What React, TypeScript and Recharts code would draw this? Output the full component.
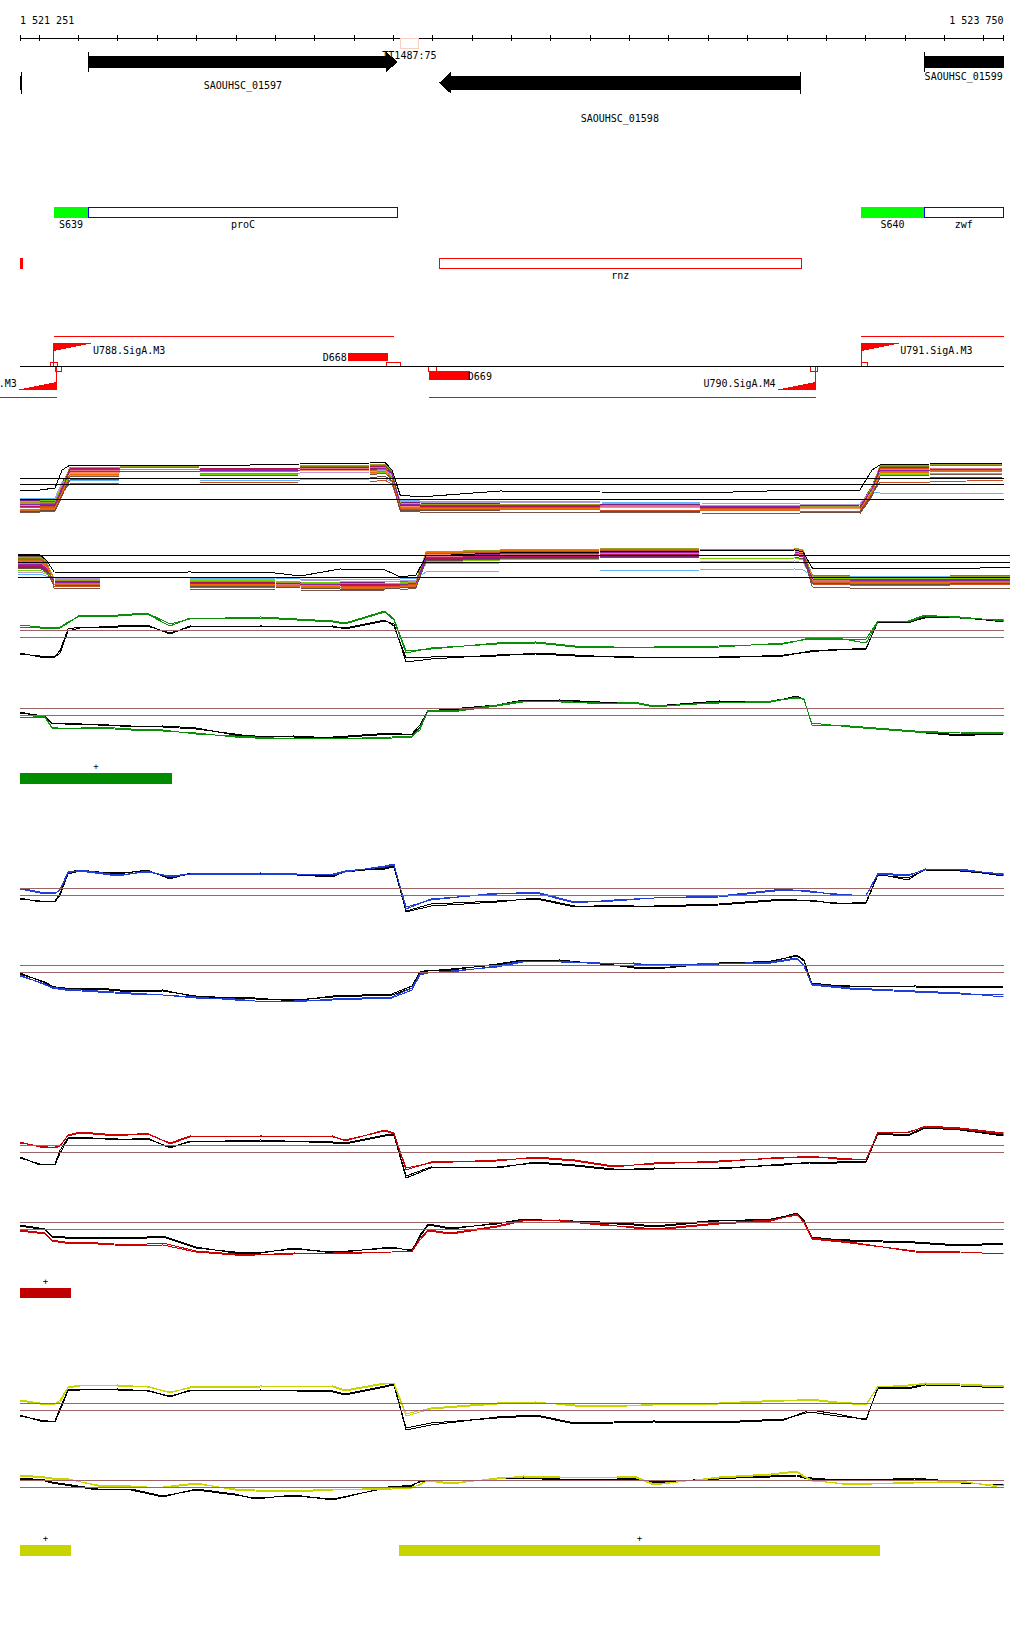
import React from 'react'
import { ComposedChart, LineChart, Line, XAxis, YAxis, ReferenceLine, ReferenceArea, ReferenceDot } from 'recharts'

// genomic window shown
const START = 1521251
const END = 1523750
const FONT = "'DejaVu Sans Mono', monospace"

const RULER_TICKS = [
  1521251, 1521300, 1521400, 1521500, 1521600, 1521700, 1521800, 1521900, 1522000, 1522100, 1522200,
  1522300, 1522400, 1522500, 1522600, 1522700, 1522800, 1522900, 1523000, 1523100, 1523200, 1523300,
  1523400, 1523500, 1523600, 1523700, 1523750,
]

// annotation tracks
const GENES = [
  { name: '', start: 1521251, end: 1521255, strand: '-' },
  { name: 'SAOUHSC_01597', start: 1521424, end: 1522211, strand: '+' },
  { name: 'SAOUHSC_01598', start: 1522316, end: 1523234, strand: '-' },
  { name: 'SAOUHSC_01599', start: 1523548, end: 1523750, strand: '+' },
]
const SIGMA_SITES = [
  { name: 'S639', start: 1521337, end: 1521424 },
  { name: 'S640', start: 1523388, end: 1523548 },
]
const OPERON_GENES = [
  { name: 'proC', start: 1521424, end: 1522211 },
  { name: 'zwf', start: 1523548, end: 1523750 },
]
const RED_FEATURES = [
  { name: '', start: 1521251, end: 1521257 },
  { name: 'rnz', start: 1522316, end: 1523236 },
]
const PROMOTERS = [
  { name: 'U788.SigA.M3', tss: 1521337, strand: '+' },
  { name: '.M3', tss: 1521345, strand: '-' },
  { name: 'U790.SigA.M4', tss: 1523273, strand: '-' },
  { name: 'U791.SigA.M3', tss: 1523388, strand: '+' },
]
const TERMINATORS = [
  { name: 'D668', start: 1522084, end: 1522186, strand: '+' },
  { name: 'D669', start: 1522290, end: 1522394, strand: '-' },
]
const SITE_BOXES = [
  { start: 1521329, end: 1521347, strand: '+' },
  { start: 1521342, end: 1521357, strand: '-' },
  { start: 1522181, end: 1522217, strand: '+' },
  { start: 1522290, end: 1522310, strand: '-' },
  { start: 1523259, end: 1523278, strand: '-' },
  { start: 1523388, end: 1523405, strand: '+' },
]
const TRANSCRIPTS = [
  { start: 1521337, end: 1522201, strand: '+' },
  { start: 1523388, end: 1523750, strand: '+' },
  { start: 1521200, end: 1521345, strand: '-' },
  { start: 1522290, end: 1523273, strand: '-' },
]
const TT_SITES = [{ name: 'TT1487:75', start: 1522217, end: 1522264 }]
const GREEN_REGIONS = [{ start: 1521251, end: 1521637 }]
const RED_REGIONS = [{ start: 1521251, end: 1521381 }]
const YELLOW_REGIONS = [
  { start: 1521251, end: 1521381 },
  { start: 1522214, end: 1523436 },
]

// expression profiles, sampled positions
const MULTI_FWD_POS = [
  1521251, 1521302, 1521340, 1521358, 1521378, 1521505, 1521708, 1521962, 1522140, 1522178, 1522196,
  1522217, 1522267, 1522471, 1522725, 1522979, 1523233, 1523385, 1523416, 1523436, 1523563, 1523750,
]
const MULTI_REV_POS = [
  1521251, 1521306, 1521322, 1521342, 1521458, 1521684, 1521899, 1521962, 1522062, 1522176, 1522214,
  1522254, 1522279, 1522466, 1522718, 1522970, 1523209, 1523229, 1523252, 1523348, 1523600, 1523750,
]
const FWD_POS = [
  1521251, 1521302, 1521340, 1521353, 1521373, 1521403, 1521500, 1521574, 1521632, 1521683, 1521863,
  1522046, 1522077, 1522178, 1522201, 1522232, 1522295, 1522463, 1522562, 1522661, 1522760, 1522862,
  1523027, 1523192, 1523258, 1523327, 1523401, 1523431, 1523507, 1523551, 1523640, 1523750,
]
const REV_POS = [
  1521251, 1521315, 1521332, 1521365, 1521449, 1521533, 1521614, 1521698, 1521797, 1521848, 1521947,
  1522046, 1522196, 1522247, 1522267, 1522288, 1522346, 1522463, 1522529, 1522623, 1522725, 1522811,
  1522862, 1523027, 1523159, 1523225, 1523243, 1523263, 1523360, 1523525, 1523640, 1523750,
]

const MULTI_COLORS = [
  '#808000', '#e64a19', '#c2185b', '#7b1f7b', '#d2691e', '#64b5f6', '#ff8a65', '#76d200', '#b39ddb',
  '#795548', '#e07090', '#cc4c24', '#9e9d24', '#ad1457', '#ef6c00', '#6d4c41', '#8e24aa',
]
const MULTI_FWD_VALUES = [
  [16, 16, 17, 34, 52, 52, 53, 53, 54, 55, 48, 17, 16, 15, 15, 14, 13, 14, 34, 53, 54, 55],
  [12, 13, 13, 28, 50, 51, 51, 52, 52, 54, 46, 14, 13, 13, 12, 12, 11, 11, 30, 51, 52, 52],
  [18, 18, 19, 36, 51, 51, 50, 51, 51, 53, 47, 16, 15, 15, 14, 13, 13, 13, 32, 50, 51, 51],
  [20, 19, 20, 38, 49, 50, 50, 50, 51, 52, 46, 18, 17, 16, 16, 15, 14, 15, 33, 49, 50, 51],
  [10, 10, 11, 26, 47, 48, 48, 49, 49, 51, 44, 12, 11, 11, 10, 10, 9, 9, 27, 48, 49, 50],
  [22, 22, 22, 38, 39, 40, 40, 40, 41, 42, 38, 20, 19, 19, 18, 17, 16, 16, 28, 27, 27, 27],
  [15, 15, 16, 32, 48, 48, 49, 49, 50, 52, 45, 14, 14, 13, 13, 12, 12, 12, 30, 49, 50, 50],
  [19, 19, 20, 35, 44, 45, 45, 46, 46, 48, 42, 17, 16, 16, 15, 15, 14, 14, 30, 45, 46, 47],
  [21, 21, 21, 37, 46, 47, 47, 47, 48, 50, 44, 19, 18, 18, 17, 16, 16, 16, 31, 46, 47, 47],
  [8, 8, 9, 24, 43, 44, 44, 45, 45, 47, 41, 9, 8, 8, 8, 7, 6, 6, 24, 44, 45, 46],
  [17, 17, 18, 33, 50, 50, 51, 51, 52, 53, 47, 15, 15, 14, 14, 13, 13, 13, 31, 50, 51, 52],
  [13, 13, 14, 29, 36, 37, 37, 38, 38, 40, 36, 11, 11, 10, 10, 9, 9, 9, 26, 38, 38, 40],
  [18, 18, 18, 34, 53, 53, 54, 54, 55, 56, 49, 16, 16, 16, 15, 14, 14, 14, 33, 54, 55, 56],
  [14, 14, 15, 31, 51, 52, 52, 52, 53, 54, 47, 15, 14, 14, 13, 13, 12, 12, 31, 52, 53, 53],
  [11, 11, 12, 27, 45, 46, 46, 47, 47, 49, 43, 13, 12, 12, 11, 11, 10, 10, 28, 47, 48, 49],
  [9, 9, 10, 25, 40, 41, 41, 42, 42, 44, 39, 10, 10, 9, 9, 8, 8, 8, 25, 42, 42, 43],
  [16, 16, 16, 32, 49, 49, 49, 50, 50, 52, 46, 16, 15, 15, 14, 14, 13, 13, 31, 50, 50, 51],
]
const MULTI_FWD_BLACK = [30, 30, 32, 50, 55, 55, 54, 56, 57, 58, 50, 25, 23, 29, 28, 27, 30, 30, 50, 55, 56, 57]
const MULTI_REV_VALUES = [
  [42, 42, 38, 22, 21, 21, 20, 20, 19, 18, 18, 20, 46, 48, 49, 50, 50, 48, 25, 24, 24, 25],
  [38, 38, 34, 18, 17, 17, 16, 15, 14, 13, 14, 16, 44, 46, 47, 48, 48, 46, 20, 19, 19, 20],
  [35, 35, 31, 20, 19, 19, 18, 17, 16, 16, 16, 18, 42, 44, 45, 46, 46, 44, 22, 21, 21, 22],
  [33, 33, 29, 21, 20, 20, 19, 18, 18, 17, 17, 19, 40, 42, 43, 44, 45, 43, 23, 22, 22, 23],
  [40, 40, 36, 16, 15, 15, 14, 13, 12, 11, 12, 14, 47, 49, 50, 51, 51, 49, 18, 17, 17, 18],
  [26, 26, 24, 23, 22, 22, 22, 21, 21, 21, 21, 22, 28, 29, 29, 30, 31, 30, 24, 24, 24, 24],
  [36, 36, 32, 19, 18, 18, 17, 16, 15, 15, 15, 17, 45, 47, 48, 49, 49, 47, 21, 20, 20, 21],
  [30, 30, 27, 21, 20, 20, 19, 18, 17, 17, 17, 19, 38, 40, 41, 41, 42, 40, 22, 22, 22, 22],
  [28, 28, 26, 22, 21, 21, 20, 20, 19, 19, 19, 20, 36, 37, 38, 38, 39, 37, 23, 23, 23, 23],
  [44, 44, 40, 12, 11, 11, 10, 10, 9, 10, 10, 12, 43, 45, 46, 47, 47, 45, 13, 12, 12, 12],
  [37, 37, 33, 18, 17, 17, 16, 15, 15, 14, 15, 17, 43, 45, 46, 47, 47, 45, 20, 20, 20, 21],
  [41, 41, 37, 14, 13, 13, 12, 12, 11, 11, 12, 13, 46, 48, 49, 50, 50, 48, 16, 15, 15, 16],
  [43, 43, 39, 20, 19, 19, 18, 17, 17, 16, 16, 18, 48, 50, 51, 52, 52, 50, 24, 23, 23, 24],
  [34, 34, 30, 19, 18, 18, 17, 16, 16, 15, 15, 17, 41, 43, 44, 45, 45, 43, 21, 20, 20, 21],
  [39, 39, 35, 17, 16, 16, 15, 14, 13, 13, 13, 15, 47, 49, 50, 50, 51, 49, 19, 18, 18, 19],
  [32, 32, 28, 15, 14, 14, 13, 12, 11, 11, 12, 13, 39, 41, 42, 43, 43, 41, 17, 16, 16, 17],
  [36, 36, 32, 18, 17, 17, 16, 16, 15, 15, 15, 17, 44, 46, 47, 48, 48, 46, 21, 20, 20, 20],
]
const MULTI_REV_BLACK = [46, 45, 40, 28, 27, 28, 27, 24, 31, 30, 23, 25, 44, 47, 48, 49, 50, 48, 32, 32, 31, 33]

// condition 1 (green)
const GREEN_FWD_1 = [45, 43, 42, 43, 48, 54, 54, 56, 44, 52, 52, 48, 46, 58, 50, 17, 22, 26, 27, 23, 22, 23, 23, 27, 31, 31, 31, 49, 48, 54, 53, 49]
const GREEN_FWD_2 = [43, 42, 42, 42, 47, 55, 55, 57, 46, 51, 53, 49, 47, 59, 51, 19, 21, 27, 28, 24, 23, 23, 24, 26, 32, 32, 27, 48, 49, 55, 52, 50]
const GREEN_FWD_REF_1 = [17, 13, 13, 20, 41, 43, 43, 44, 37, 43, 44, 43, 42, 50, 44, 12, 13, 14, 17, 15, 13, 13, 12, 15, 18, 21, 21, 49, 47, 53, 52, 49]
const GREEN_FWD_REF_2 = [16, 14, 13, 17, 39, 42, 44, 45, 36, 44, 43, 44, 41, 49, 46, 8, 11, 15, 16, 14, 14, 12, 13, 14, 19, 20, 22, 48, 48, 52, 53, 48]
const GREEN_REV_1 = [33, 32, 22, 22, 22, 20, 19, 17, 13, 12, 12, 11, 13, 14, 20, 40, 39, 45, 49, 48, 47, 47, 43, 48, 48, 53, 50, 27, 23, 18, 18, 17]
const GREEN_REV_2 = [35, 33, 23, 21, 23, 21, 20, 16, 14, 13, 11, 12, 12, 13, 22, 39, 38, 44, 48, 49, 46, 48, 44, 47, 49, 52, 51, 25, 24, 19, 17, 16]
const GREEN_REV_REF_1 = [38, 33, 27, 26, 26, 23, 24, 22, 15, 14, 13, 13, 17, 15, 23, 40, 40, 44, 49, 50, 48, 48, 43, 48, 49, 53, 51, 25, 24, 18, 14, 17]
const GREEN_REV_REF_2 = [37, 34, 26, 27, 25, 24, 23, 21, 16, 13, 14, 12, 16, 16, 25, 39, 41, 45, 50, 49, 48, 47, 44, 49, 48, 54, 50, 27, 23, 19, 15, 16]

// condition 2 (blue)
const BLUE_FWD_1 = [31, 27, 26, 31, 48, 49, 44, 49, 43, 46, 46, 46, 49, 53, 55, 13, 20, 27, 27, 17, 20, 22, 23, 30, 29, 25, 25, 46, 44, 51, 50, 46]
const BLUE_FWD_2 = [32, 28, 27, 30, 47, 50, 45, 48, 44, 46, 47, 45, 48, 54, 56, 11, 21, 26, 28, 18, 19, 22, 24, 31, 28, 26, 24, 47, 45, 50, 51, 45]
const BLUE_FWD_REF_1 = [22, 18, 19, 27, 48, 50, 46, 50, 41, 47, 47, 43, 49, 51, 53, 9, 16, 19, 21, 13, 15, 13, 15, 20, 20, 16, 18, 46, 40, 51, 50, 44]
const BLUE_FWD_REF_2 = [21, 19, 18, 25, 46, 49, 47, 49, 42, 46, 46, 44, 48, 52, 54, 8, 14, 18, 22, 14, 14, 14, 16, 21, 19, 17, 17, 45, 42, 50, 49, 45]
const BLUE_REV_1 = [35, 25, 23, 21, 19, 17, 15, 13, 10, 9, 8, 11, 13, 22, 36, 38, 38, 44, 49, 48, 47, 46, 45, 46, 48, 52, 45, 26, 22, 19, 17, 13]
const BLUE_REV_2 = [34, 26, 22, 20, 18, 16, 15, 12, 11, 9, 9, 10, 12, 20, 35, 37, 39, 43, 48, 49, 46, 47, 44, 47, 47, 51, 44, 25, 21, 18, 16, 15]
const BLUE_REV_REF_1 = [37, 27, 23, 22, 22, 19, 20, 13, 13, 12, 9, 14, 16, 24, 38, 40, 40, 46, 50, 49, 47, 42, 41, 47, 48, 55, 50, 27, 23, 24, 23, 24]
const BLUE_REV_REF_2 = [36, 28, 24, 21, 21, 18, 19, 14, 12, 11, 10, 13, 15, 22, 37, 39, 41, 45, 49, 50, 46, 43, 42, 46, 49, 54, 49, 26, 24, 23, 22, 23]

// condition 3 (red)
const RED_FWD_1 = [43, 38, 38, 40, 49, 52, 49, 52, 41, 48, 49, 48, 45, 54, 51, 17, 22, 25, 27, 24, 18, 22, 23, 28, 28, 27, 25, 53, 52, 59, 57, 52]
const RED_FWD_2 = [42, 39, 37, 39, 50, 53, 50, 51, 42, 49, 48, 49, 44, 55, 52, 15, 23, 24, 28, 25, 19, 21, 24, 27, 29, 26, 26, 52, 53, 58, 56, 51]
const RED_FWD_REF_1 = [28, 20, 21, 35, 47, 48, 45, 47, 37, 44, 44, 43, 42, 50, 51, 9, 18, 17, 23, 20, 16, 16, 17, 20, 23, 23, 24, 52, 50, 58, 56, 50]
const RED_FWD_REF_2 = [27, 21, 20, 32, 46, 47, 46, 46, 38, 43, 45, 42, 41, 49, 50, 7, 17, 18, 22, 19, 15, 17, 16, 21, 22, 22, 23, 51, 49, 57, 55, 49]
const RED_REV_1 = [35, 32, 25, 23, 22, 20, 22, 14, 11, 10, 11, 12, 13, 13, 27, 35, 32, 39, 45, 44, 40, 38, 36, 42, 45, 50, 43, 27, 23, 13, 12, 12]
const RED_REV_2 = [34, 31, 24, 22, 21, 19, 20, 13, 10, 10, 12, 11, 13, 14, 25, 34, 31, 38, 44, 45, 41, 37, 35, 41, 44, 51, 42, 26, 22, 14, 13, 11]
const RED_REV_REF_1 = [40, 36, 29, 28, 28, 27, 29, 18, 12, 11, 17, 12, 18, 14, 30, 41, 37, 41, 46, 44, 43, 41, 39, 45, 45, 52, 45, 27, 25, 23, 20, 22]
const RED_REV_REF_2 = [39, 35, 28, 27, 27, 26, 28, 17, 13, 12, 16, 13, 17, 15, 28, 40, 36, 42, 45, 45, 42, 40, 38, 44, 46, 51, 44, 28, 24, 22, 19, 21]

// condition 4 (yellow)
const YELLOW_FWD_1 = [40, 37, 36, 40, 53, 55, 54, 54, 47, 53, 54, 53, 49, 56, 57, 26, 32, 37, 38, 34, 33, 36, 37, 40, 40, 37, 35, 54, 54, 57, 56, 54]
const YELLOW_FWD_2 = [39, 36, 36, 38, 52, 54, 55, 53, 48, 52, 53, 54, 50, 57, 56, 24, 31, 36, 37, 35, 34, 35, 36, 39, 41, 38, 36, 53, 55, 56, 55, 53]
const YELLOW_FWD_REF_1 = [25, 19, 19, 32, 50, 51, 50, 50, 43, 50, 50, 49, 46, 54, 56, 12, 17, 22, 24, 16, 17, 18, 17, 20, 30, 26, 20, 53, 52, 56, 55, 53]
const YELLOW_FWD_REF_2 = [24, 20, 18, 30, 49, 50, 51, 49, 44, 49, 50, 48, 45, 53, 55, 10, 15, 23, 25, 17, 18, 19, 18, 21, 28, 24, 21, 52, 51, 55, 54, 52]
const YELLOW_REV_1 = [35, 33, 32, 32, 24, 23, 23, 27, 20, 19, 18, 20, 22, 22, 26, 29, 26, 32, 33, 32, 33, 33, 25, 33, 36, 39, 34, 30, 25, 28, 28, 24]
const YELLOW_REV_2 = [34, 32, 31, 31, 25, 24, 22, 26, 21, 20, 19, 21, 21, 23, 25, 30, 27, 31, 34, 33, 32, 34, 26, 32, 35, 38, 33, 29, 26, 27, 29, 22]
const YELLOW_REV_REF_1 = [32, 30, 28, 26, 21, 20, 13, 21, 16, 11, 15, 10, 24, 24, 29, 29, 26, 32, 33, 31, 30, 32, 28, 31, 34, 35, 33, 32, 29, 32, 28, 24]
const YELLOW_REV_REF_2 = [31, 29, 27, 25, 20, 21, 14, 20, 15, 12, 14, 11, 23, 25, 28, 30, 27, 31, 32, 30, 31, 31, 27, 32, 33, 34, 32, 31, 30, 31, 27, 25]

// layout (pixel rows of the overlay)
const ROW = {
  geneFwd: [51.7, 72.3],
  geneRev: [71.7, 94],
  operon: [207, 217.7],
  operonLabel: 227.7,
  redFeat: [258, 268.7],
  redLabel: 279,
  fwdTranscript: 336,
  promFwd: [343, 366],
  termFwd: [353.3, 361.3],
  siteFwd: [362.3, 366.7],
  baseline: 366,
  siteRev: [366.3, 371],
  termRev: [371.3, 379.7],
  promRev: [366, 390],
  revTranscript: 397.3,
  tt: [38.3, 48.3],
  ttLabel: 59,
  green: [773, 783.7],
  red: [1288.3, 1298.3],
  yellow: [1545, 1555.7],
}
const GENE_LABEL_Y: Record<string, number> = { SAOUHSC_01597: 89, SAOUHSC_01598: 122, SAOUHSC_01599: 80 }
const PROMOTER_BP = 102
const BROWN = '#9c6464'

const fmt = (v: number) => String(v).replace(/\B(?=(\d{3})+(?!\d))/g, ' ')

function txt(x: number, y: number, s: string, anchor = 'middle', size = 10) {
  return (
    <text x={x} y={y} textAnchor={anchor} fontFamily={FONT} fontSize={size} fill="#000">
      {s}
    </text>
  )
}

function geneShape(g: { start: number; end: number; strand: string }) {
  return (p: any) => {
    const { x, y, width: w, height: h } = p
    const inset = 4
    const head = 12
    const fwd = g.strand === '+'
    const headOn = fwd ? g.end < END : g.start > START
    const markOn = fwd ? g.start >= START : g.end <= END
    let d = ''
    if (fwd) {
      const hx = headOn ? x + w - head : x + w
      d = `M${x},${y + inset} L${hx},${y + inset} ` +
        (headOn ? `L${hx},${y} L${x + w},${y + h / 2} L${hx},${y + h} ` : '') +
        `L${hx},${y + h - inset} L${x},${y + h - inset} Z`
    } else {
      const hx = headOn ? x + head : x
      d = `M${x + w},${y + inset} L${hx},${y + inset} ` +
        (headOn ? `L${hx},${y} L${x},${y + h / 2} L${hx},${y + h} ` : '') +
        `L${hx},${y + h - inset} L${x + w},${y + h - inset} Z`
    }
    const mx = fwd ? x : x + w
    return (
      <g>
        <path d={d} fill="#000" />
        {markOn && <line x1={mx} x2={mx} y1={y} y2={y + h} stroke="#000" strokeWidth={1} />}
      </g>
    )
  }
}

function promoterShape(pr: { name: string; strand: string }) {
  return (p: any) => {
    const { x, y, width: w, height: h } = p
    const th = 8
    if (pr.strand === '+') {
      return (
        <g>
          <path d={`M${x},${y} L${x + w},${y} L${x},${y + th} Z`} fill="#ff0000" />
          <line x1={x} x2={x} y1={y} y2={y + h} stroke="#ff0000" />
          {txt(x + w - 1, y + 11, pr.name, 'start')}
        </g>
      )
    }
    return (
      <g>
        <path d={`M${x + w},${y + h - th} L${x + w},${y + h} L${x},${y + h} Z`} fill="#ff0000" />
        <line x1={x + w} x2={x + w} y1={y} y2={y + h} stroke="#ff0000" />
        {txt(x, y + h - 3, pr.name, 'end')}
      </g>
    )
  }
}

function terminatorShape(t: { name: string; strand: string }) {
  return (p: any) => {
    const { x, y, width: w, height: h } = p
    return (
      <g>
        <rect x={x} y={y} width={w} height={h} fill="#ff0000" />
        {t.strand === '+' ? txt(x - 1, y + h, t.name, 'end') : txt(x + w - 2, y + h, t.name, 'start')}
      </g>
    )
  }
}

function regionShape(color: string) {
  return (p: any) => {
    const { x, y, width: w, height: h } = p
    return (
      <g>
        <rect x={x} y={y} width={w} height={h} fill={color} />
        {txt(x + w / 2, y - 4, '+', 'middle', 9)}
      </g>
    )
  }
}

function RulerTick(props: any) {
  const { x, y, payload } = props
  const v = payload.value
  return (
    <g>
      <line x1={x} x2={x} y1={y - 3} y2={y + 3} stroke="#000" />
      {v === START && txt(x, y - 14, fmt(v), 'start')}
      {v === END && txt(x, y - 14, fmt(v), 'end')}
    </g>
  )
}

function Ruler() {
  const data = RULER_TICKS.map((pos) => ({ pos }))
  return (
    <div style={{ position: 'absolute', left: 0, top: 0 }}>
      <LineChart width={1024} height={60} data={data} margin={{ top: 0, right: 20.5, bottom: 0, left: 20 }}>
        <XAxis
          dataKey="pos"
          type="number"
          domain={[START, END]}
          allowDataOverflow
          ticks={RULER_TICKS}
          interval={0}
          height={22}
          tickLine={false}
          tickSize={0}
          tickMargin={0}
          axisLine={{ stroke: '#000' }}
          tick={(p: any) => <RulerTick {...p} />}
        />
        <YAxis hide type="number" domain={[0, 1]} />
      </LineChart>
    </div>
  )
}

type Series = { key: string; color: string; values: number[] }

function ExprPanel({ left, top, width, height, positions, series, refs, refColor }: {
  left: number; top: number; width: number; height: number; positions: number[]
  series: Series[]; refs: number[]; refColor: string
}) {
  const data = positions.map((pos, i) => {
    const row: Record<string, number> = { pos }
    series.forEach((s) => { row[s.key] = s.values[i] })
    return row
  })
  return (
    <div style={{ position: 'absolute', left, top }}>
      <LineChart width={width} height={height} data={data} margin={{ top: 0, right: 0, bottom: 0, left: 0 }}>
        <XAxis dataKey="pos" type="number" domain={[START, END]} hide allowDataOverflow />
        <YAxis type="number" domain={[0, height]} hide allowDataOverflow />
        {series.map((s) => (
          <Line key={s.key} dataKey={s.key} type="linear" stroke={s.color} strokeWidth={1} dot={false} isAnimationActive={false} />
        ))}
        {refs.map((r) => (
          <ReferenceLine key={r} y={r} stroke={refColor} strokeWidth={1} />
        ))}
      </LineChart>
    </div>
  )
}

const pair = (name: string, color: string, a: number[], b: number[], r1: number[], r2: number[]): Series[] => [
  { key: name + 'r1', color: '#000', values: r1 },
  { key: name + 'r2', color: '#000', values: r2 },
  { key: name + 'a', color, values: a },
  { key: name + 'b', color, values: b },
]

function Overlay() {
  const frame = [{ pos: START }, { pos: END }]
  const clip = (v: number) => Math.min(Math.max(v, START), END)
  return (
    <div style={{ position: 'absolute', left: 0, top: 0 }}>
      <ComposedChart width={1024} height={1640} data={frame} margin={{ top: 0, right: 20.5, bottom: 0, left: 20 }}>
        <XAxis dataKey="pos" type="number" domain={[START, END]} hide allowDataOverflow />
        <YAxis type="number" domain={[0, 1640]} reversed hide allowDataOverflow />

        {GENES.map((g, i) => (
          <ReferenceArea
            key={'g' + i}
            x1={clip(g.start)}
            x2={clip(g.end)}
            y1={g.strand === '+' ? ROW.geneFwd[0] : ROW.geneRev[0]}
            y2={g.strand === '+' ? ROW.geneFwd[1] : ROW.geneRev[1]}
            ifOverflow="visible"
            shape={geneShape(g)}
          />
        ))}
        {GENES.filter((g) => g.name).map((g) => (
          <ReferenceDot
            key={'gl' + g.name}
            x={(clip(g.start) + clip(g.end)) / 2}
            y={GENE_LABEL_Y[g.name]}
            r={0}
            ifOverflow="visible"
            shape={(p: any) => txt(p.cx, p.cy, g.name)}
          />
        ))}
        {TT_SITES.map((t) => (
          <ReferenceArea key={t.name} x1={t.start} x2={t.end} y1={ROW.tt[0]} y2={ROW.tt[1]} fill="none" stroke="#f8cfc0" strokeWidth={1} fillOpacity={0} ifOverflow="visible" />
        ))}
        {TT_SITES.map((t) => (
          <ReferenceDot key={t.name + 'l'} x={(t.start + t.end) / 2} y={ROW.ttLabel} r={0} ifOverflow="visible" shape={(p: any) => txt(p.cx, p.cy, t.name)} />
        ))}

        {SIGMA_SITES.map((s) => (
          <ReferenceArea key={s.name} x1={s.start} x2={s.end} y1={ROW.operon[0]} y2={ROW.operon[1]} fill="#00ff00" fillOpacity={1} stroke="none" ifOverflow="visible" />
        ))}
        {OPERON_GENES.map((s) => (
          <ReferenceArea key={s.name} x1={s.start} x2={s.end} y1={ROW.operon[0]} y2={ROW.operon[1]} fill="#fff" fillOpacity={0} stroke="#0000ff" strokeWidth={1} ifOverflow="visible" />
        ))}
        {[...SIGMA_SITES, ...OPERON_GENES].map((s) => (
          <ReferenceDot key={s.name + 'l'} x={(s.start + s.end) / 2} y={ROW.operonLabel} r={0} ifOverflow="visible" shape={(p: any) => txt(p.cx, p.cy, s.name)} />
        ))}

        {RED_FEATURES.map((s, i) => (
          <ReferenceArea
            key={'rf' + i}
            x1={s.start}
            x2={s.end}
            y1={ROW.redFeat[0]}
            y2={ROW.redFeat[1]}
            fill="#ff0000"
            fillOpacity={s.start <= START ? 1 : 0}
            stroke="#ff0000"
            strokeWidth={1}
            ifOverflow="visible"
          />
        ))}
        {RED_FEATURES.filter((s) => s.name).map((s) => (
          <ReferenceDot key={s.name + 'l'} x={(s.start + s.end) / 2} y={ROW.redLabel} r={0} ifOverflow="visible" shape={(p: any) => txt(p.cx, p.cy, s.name)} />
        ))}

        {TRANSCRIPTS.map((t, i) => {
          const yy = t.strand === '+' ? ROW.fwdTranscript : ROW.revTranscript
          return (
            <ReferenceLine key={'tr' + i} segment={[{ x: t.start, y: yy }, { x: t.end, y: yy }]} stroke="#ff0000" strokeWidth={1} ifOverflow="visible" />
          )
        })}
        <ReferenceLine y={ROW.baseline} stroke="#000" strokeWidth={1} />
        {PROMOTERS.map((pr) => (
          <ReferenceArea
            key={pr.name}
            x1={pr.strand === '+' ? pr.tss : pr.tss - PROMOTER_BP}
            x2={pr.strand === '+' ? pr.tss + PROMOTER_BP : pr.tss}
            y1={pr.strand === '+' ? ROW.promFwd[0] : ROW.promRev[0]}
            y2={pr.strand === '+' ? ROW.promFwd[1] : ROW.promRev[1]}
            ifOverflow="visible"
            shape={promoterShape(pr)}
          />
        ))}
        {TERMINATORS.map((t) => (
          <ReferenceArea
            key={t.name}
            x1={t.start}
            x2={t.end}
            y1={t.strand === '+' ? ROW.termFwd[0] : ROW.termRev[0]}
            y2={t.strand === '+' ? ROW.termFwd[1] : ROW.termRev[1]}
            ifOverflow="visible"
            shape={terminatorShape(t)}
          />
        ))}
        {SITE_BOXES.map((s, i) => (
          <ReferenceArea
            key={'sb' + i}
            x1={s.start}
            x2={s.end}
            y1={s.strand === '+' ? ROW.siteFwd[0] : ROW.siteRev[0]}
            y2={s.strand === '+' ? ROW.siteFwd[1] : ROW.siteRev[1]}
            fill="#fff"
            fillOpacity={0}
            stroke="#ff0000"
            strokeWidth={1}
            ifOverflow="visible"
          />
        ))}

        {GREEN_REGIONS.map((r, i) => (
          <ReferenceArea key={'gr' + i} x1={r.start} x2={r.end} y1={ROW.green[0]} y2={ROW.green[1]} ifOverflow="visible" shape={regionShape('#008c00')} />
        ))}
        {RED_REGIONS.map((r, i) => (
          <ReferenceArea key={'rr' + i} x1={r.start} x2={r.end} y1={ROW.red[0]} y2={ROW.red[1]} ifOverflow="visible" shape={regionShape('#c00000')} />
        ))}
        {YELLOW_REGIONS.map((r, i) => (
          <ReferenceArea key={'yr' + i} x1={r.start} x2={r.end} y1={ROW.yellow[0]} y2={ROW.yellow[1]} ifOverflow="visible" shape={regionShape('#c8d400')} />
        ))}
      </ComposedChart>
    </div>
  )
}

export default function App() {
  const multiFwd: Series[] = [
    ...MULTI_FWD_VALUES.map((v, i) => ({ key: 'mf' + i, color: MULTI_COLORS[i], values: v })),
    { key: 'mfk', color: '#000', values: MULTI_FWD_BLACK },
  ]
  const multiRev: Series[] = [
    ...MULTI_REV_VALUES.map((v, i) => ({ key: 'mr' + i, color: MULTI_COLORS[i], values: v })),
    { key: 'mrk', color: '#000', values: MULTI_REV_BLACK },
  ]
  return (
    <div style={{ position: 'absolute', left: 0, top: 0, width: 1024, height: 1640, background: '#fff', overflow: 'hidden' }}>
      <style>{'svg { shape-rendering: crispEdges; } svg text { shape-rendering: auto; }'}</style>
      <ExprPanel left={20} top={450} width={983.5} height={70} positions={MULTI_FWD_POS} series={multiFwd} refs={[42, 36, 21]} refColor="#000" />
      <ExprPanel left={18} top={540} width={992} height={60} positions={MULTI_REV_POS} series={multiRev} refs={[45, 38, 23]} refColor="#000" />

      <ExprPanel left={20} top={600} width={983.5} height={70} positions={FWD_POS} series={pair('gf', '#0a8f0a', GREEN_FWD_1, GREEN_FWD_2, GREEN_FWD_REF_1, GREEN_FWD_REF_2)} refs={[40, 33]} refColor={BROWN} />
      <ExprPanel left={20} top={690} width={983.5} height={60} positions={REV_POS} series={pair('gr', '#0a8f0a', GREEN_REV_1, GREEN_REV_2, GREEN_REV_REF_1, GREEN_REV_REF_2)} refs={[42, 35]} refColor={BROWN} />

      <ExprPanel left={20} top={855} width={983.5} height={65} positions={FWD_POS} series={pair('bf', '#1f3fd8', BLUE_FWD_1, BLUE_FWD_2, BLUE_FWD_REF_1, BLUE_FWD_REF_2)} refs={[32, 25]} refColor={BROWN} />
      <ExprPanel left={20} top={950} width={983.5} height={60} positions={REV_POS} series={pair('br', '#1f3fd8', BLUE_REV_1, BLUE_REV_2, BLUE_REV_REF_1, BLUE_REV_REF_2)} refs={[45, 38]} refColor={BROWN} />

      <ExprPanel left={20} top={1120} width={983.5} height={65} positions={FWD_POS} series={pair('rf', '#cc0000', RED_FWD_1, RED_FWD_2, RED_FWD_REF_1, RED_FWD_REF_2)} refs={[40, 33]} refColor={BROWN} />
      <ExprPanel left={20} top={1205} width={983.5} height={60} positions={REV_POS} series={pair('rr', '#cc0000', RED_REV_1, RED_REV_2, RED_REV_REF_1, RED_REV_REF_2)} refs={[43, 36]} refColor={BROWN} />

      <ExprPanel left={20} top={1375} width={983.5} height={65} positions={FWD_POS} series={pair('yf', '#c8d400', YELLOW_FWD_1, YELLOW_FWD_2, YELLOW_FWD_REF_1, YELLOW_FWD_REF_2)} refs={[37, 30]} refColor={BROWN} />
      <ExprPanel left={20} top={1460} width={983.5} height={50} positions={REV_POS} series={pair('yr', '#c8d400', YELLOW_REV_1, YELLOW_REV_2, YELLOW_REV_REF_1, YELLOW_REV_REF_2)} refs={[30, 23]} refColor={BROWN} />

      <Ruler />
      <Overlay />
    </div>
  )
}
